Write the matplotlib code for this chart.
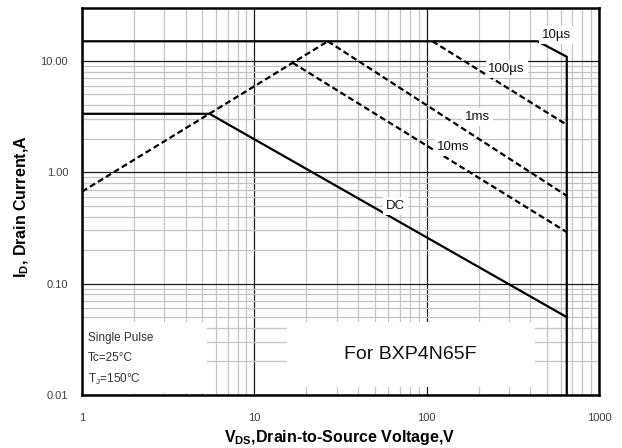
import matplotlib
matplotlib.use("Agg")
import matplotlib.pyplot as plt
from matplotlib.ticker import FixedLocator, NullFormatter
from matplotlib.patches import Rectangle

plt.rcParams['font.family'] = ['Liberation Sans', 'DejaVu Sans']
plt.rcParams['mathtext.fontset'] = 'custom'
plt.rcParams['mathtext.rm'] = 'Liberation Sans'
plt.rcParams['mathtext.bf'] = 'Liberation Sans:bold'

# ---- data ----
limit_v = [1, 440, 650, 650]
limit_i = [15, 15, 10.9, 0.01]
dc_v = [1, 5.5, 650]
dc_i = [3.35, 3.35, 0.05]
rds_v = [1, 26.7]
rds_i = [0.67, 15]
us100_v = [108, 650]
us100_i = [15, 2.67]
ms1_v = [26.7, 650]
ms1_i = [15, 0.615]
ms10_v = [16.7, 650]
ms10_i = [9.6, 0.29]

x_ticks = [1, 10, 100, 1000]
x_ticklabels = ["1", "10", "100", "1000"]
y_ticks = [0.01, 0.1, 1, 10]
y_ticklabels = ["0.01", "0.10", "1.00", "10.00"]

curve_labels = ["10µs", "100µs", "1ms", "10ms", "DC"]
curve_label_pos = [(567, 17.1), (291, 8.47), (198, 3.15), (143.5, 1.69), (66, 0.50)]

fig = plt.figure(figsize=(6.22, 4.48), dpi=100)
ax = fig.add_axes([82/622, 1-395/448, (599-82)/622, (395-8)/448])
ax.set_xscale('log')
ax.set_yscale('log')
ax.set_xlim(1, 1000)
ax.set_ylim(0.01, 10**1.475)

# grid
minor_x = [m*d for d in (1, 10, 100) for m in range(2, 10)]
minor_y = [m*d for d in (0.01, 0.1, 1) for m in range(2, 10)]
ax.xaxis.set_major_locator(FixedLocator(x_ticks))
ax.yaxis.set_major_locator(FixedLocator(y_ticks))
ax.xaxis.set_minor_locator(FixedLocator(minor_x))
ax.yaxis.set_minor_locator(FixedLocator(minor_y))
ax.xaxis.set_minor_formatter(NullFormatter())
ax.yaxis.set_minor_formatter(NullFormatter())
ax.set_xticklabels(x_ticklabels)
ax.set_yticklabels(y_ticklabels)
ax.grid(which='major', color='#1a1a1a', linewidth=0.9, zorder=1)
ax.grid(which='minor', color='#c4c4c4', linewidth=0.9, zorder=0.5)
ax.set_axisbelow(True)
ax.tick_params(which='both', length=0)
ax.tick_params(axis='x', pad=13, labelsize=8, labelcolor='#404040')
ax.tick_params(axis='y', pad=10, labelsize=8, labelcolor='#404040')
for s in ax.spines.values():
    s.set_linewidth(1.8)
    s.set_color('black')
    s.set_zorder(6)

# white patches (text backgrounds)
ax.add_patch(Rectangle((0, (395-393)/387), (207-82)/517, (393-322)/387,
                       transform=ax.transAxes, facecolor='white', edgecolor='none', zorder=2))
ax.add_patch(Rectangle(((287-82)/517, (395-387)/387), (535-287)/517, (387-322)/387,
                       transform=ax.transAxes, facecolor='white', edgecolor='none', zorder=2))

lw = 1.6
ax.plot(limit_v, limit_i, color='black', lw=lw, zorder=4)
ax.plot(dc_v, dc_i, color='black', lw=lw, zorder=4)
dash = (0, (2.7, 1.5))
for vv, ii in [(rds_v, rds_i), (us100_v, us100_i), (ms1_v, ms1_i), (ms10_v, ms10_i)]:
    ax.plot(vv, ii, color='black', lw=lw, linestyle=dash, zorder=4)

for lab, (xv, yv) in zip(curve_labels, curve_label_pos):
    ax.text(xv, yv, lab, fontsize=9.5, ha='center', va='center', color='#111111', zorder=5,
            bbox=dict(facecolor='white', edgecolor='none', pad=2))

ax.text((88-82)/517, (395-338)/387, "Single Pulse", transform=ax.transAxes,
        fontsize=8.5, color='#333333', ha='left', va='center', zorder=5)
ax.text((88-82)/517, (395-358)/387, "Tc=25°C", transform=ax.transAxes,
        fontsize=8.5, color='#333333', ha='left', va='center', zorder=5)
ax.text((88-82)/517, (395-379)/387, r"T$_\mathrm{J}$=150°C", transform=ax.transAxes,
        fontsize=8.5, color='#333333', ha='left', va='center', zorder=5)
ax.text(80.7, 0.023, "For BXP4N65F", fontsize=14, ha='center', va='center',
        color='#111111', zorder=5)

fig.text(340/622, 1-437/448, r"$\mathbf{V_{DS}}$,Drain-to-Source Voltage,V",
         fontsize=11.5, fontweight='bold', ha='center', va='center')
fig.text(22/622, 1-207/448, r"$\mathbf{I_{D}}$, Drain Current,A",
         fontsize=11.5, fontweight='bold', ha='center', va='center', rotation=90)

fig.savefig("out.png", dpi=100)
